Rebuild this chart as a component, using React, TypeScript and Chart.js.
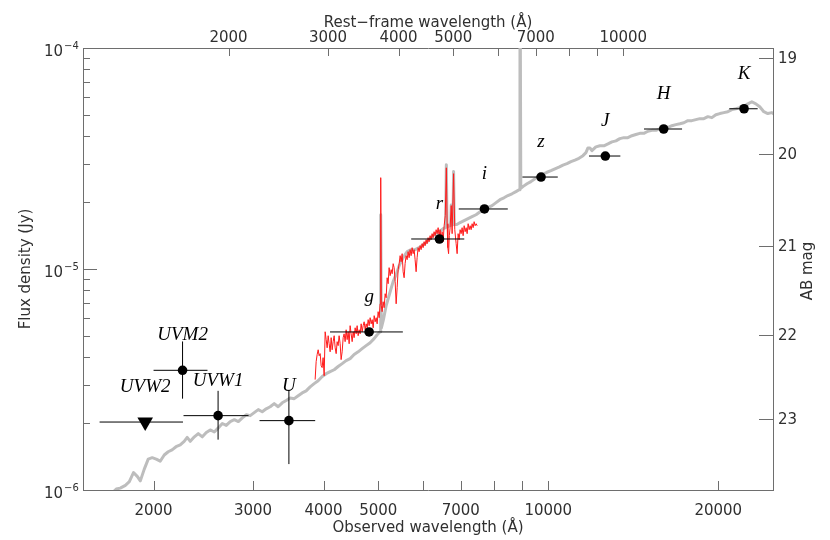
import React, { useEffect, useRef } from 'react';
import { Chart, registerables } from 'chart.js';

Chart.register(...registerables);

// ---------- axis ranges ----------
const OBS_MIN = 1500;
const OBS_MAX = 25000;
const ONE_PLUS_Z = 1.3576;
const FLUX_MIN = 1e-6;
const FLUX_MAX = 1e-4;
const MICRO = 1e-6; // flux arrays below are in µJy

// ---------- photometry ----------
const bandNames = ['UVW2', 'UVM2', 'UVW1', 'U', 'g', 'r', 'i', 'z', 'J', 'H', 'K'];
const bandWave = [1933, 2251, 2602, 3473, 4817, 6416, 7708, 9709, 12619, 16008, 22216];
const bandWaveLo = [1605, 2000, 2260, 3081, 4107, 5718, 6942, 8999, 11806, 14776, 20918];
const bandWaveHi = [2255, 2492, 2946, 3866, 5527, 7100, 8478, 10395, 13416, 17255, 23484];
const bandFlux = [2.03, 3.48, 2.17, 2.06, 5.19, 13.67, 18.69, 26.07, 32.45, 43.0, 53.1];
const bandFluxLo = [null, 2.59, 1.69, 1.31, null, null, null, null, null, null, null];
const bandFluxHi = [null, 4.70, 2.81, 2.84, null, null, null, null, null, null, null];
const bandUpperLimit = [true, false, false, false, false, false, false, false, false, false, false];

// ---------- galaxy template (grey) ----------
const templateWave = [
  1676, 1718, 1746, 1783, 1812, 1843, 1873, 1895, 1925, 1957,
  1989, 2022, 2055, 2089, 2123, 2157, 2192, 2230, 2266, 2294,
  2323, 2362, 2400, 2440, 2480, 2520, 2562, 2604, 2647, 2690,
  2734, 2780, 2826, 2872, 2920, 2966, 3015, 3065, 3115, 3166,
  3218, 3271, 3324, 3380, 3435, 3491, 3549, 3607, 3666, 3726,
  3787, 3850, 3913, 3978, 4043, 4109, 4177, 4245, 4315, 4386,
  4458, 4531, 4606, 4681, 4758, 4837, 4916, 4977, 5018, 5038,
  5050, 5062, 5106, 5163, 5248, 5312, 5376, 5444, 5534, 5625,
  5716, 5811, 5906, 6003, 6101, 6202, 6304, 6408, 6513, 6580,
  6599, 6618, 6647, 6715, 6732, 6750, 6780, 6797, 6815, 6887,
  6981, 7095, 7211, 7329, 7449, 7574, 7698, 7824, 7952, 8082,
  8212, 8347, 8484, 8624, 8765, 8880, 8910, 8940, 9029, 9169,
  9317, 9470, 9626, 9784, 9945, 10110, 10275, 10445, 10617, 10792,
  10970, 11150, 11333, 11520, 11660, 11755, 11850, 11947, 12142, 12345,
  12548, 12754, 12964, 13178, 13388, 13610, 13834, 14062, 14293, 14525,
  14767, 15010, 15257, 15508, 15759, 16020, 16283, 16551, 16823, 17101,
  17382, 17668, 17958, 18254, 18554, 18858, 19169, 19484, 19804, 20129,
  20460, 20796, 21140, 21487, 21838, 22197, 22561, 22933, 23311, 23686,
  24080, 24475, 24880, 25190,
];
const templateFlux = [
  0.95, 1.01, 1.02, 1.05, 1.09, 1.20, 1.15, 1.10, 1.24, 1.38,
  1.40, 1.38, 1.35, 1.44, 1.49, 1.52, 1.57, 1.60, 1.66, 1.73,
  1.66, 1.74, 1.80, 1.74, 1.82, 1.87, 1.83, 1.91, 2.00, 1.96,
  2.04, 2.08, 2.04, 2.12, 2.19, 2.17, 2.24, 2.31, 2.26, 2.33,
  2.38, 2.46, 2.38, 2.48, 2.54, 2.61, 2.59, 2.67, 2.75, 2.81,
  2.93, 3.03, 3.12, 3.26, 3.36, 3.43, 3.50, 3.62, 3.73, 3.85,
  3.93, 4.10, 4.22, 4.36, 4.50, 4.64, 4.84, 5.04, 5.15, 5.20,
  17.6, 5.40, 5.90, 6.82, 7.89, 8.77, 9.43, 10.35, 11.25, 11.98,
  12.23, 12.23, 12.49, 12.88, 13.29, 13.86, 14.44, 14.75, 15.22, 15.40,
  29.6, 15.50, 15.54, 15.70, 19.5, 15.80, 15.85, 27.6, 15.90, 15.89,
  16.22, 16.55, 16.90, 17.24, 17.60, 18.17, 18.55, 18.95, 19.36, 19.97,
  20.59, 21.0, 21.5, 21.9, 22.4, 22.85, 400, 23.2, 23.65, 24.3,
  24.85, 25.6, 26.2, 26.9, 27.4, 27.85, 28.4, 28.9, 29.5, 29.96,
  30.6, 31.1, 31.7, 32.57, 33.6, 35.3, 35.3, 34.3, 35.7, 36.1,
  36.1, 36.8, 37.6, 38.0, 38.9, 39.3, 39.3, 40.1, 40.6, 41.1,
  41.1, 42.0, 42.4, 42.4, 43.1, 43.6, 43.6, 44.5, 45.0, 45.4,
  45.9, 46.9, 46.9, 47.4, 47.9, 47.9, 48.9, 48.4, 49.9, 50.5,
  51.0, 51.5, 52.6, 53.1, 53.7, 54.2, 55.9, 57.1, 55.9, 54.2,
  51.5, 50.5, 51.0, 49.9,
];

// ---------- observed spectrum (red) ----------
const spectrumWave = [
  3865, 3881, 3897, 3913, 3929, 3945, 3961, 3977, 3993, 4010,
  4026, 4043, 4059, 4076, 4092, 4109, 4126, 4143, 4160, 4177,
  4194, 4211, 4228, 4245, 4262, 4280, 4297, 4315, 4333, 4350,
  4368, 4386, 4404, 4422, 4440, 4458, 4476, 4495, 4513, 4531,
  4550, 4569, 4587, 4606, 4625, 4644, 4663, 4682, 4701, 4720,
  4740, 4759, 4779, 4798, 4817, 4837, 4857, 4877, 4897, 4917,
  4937, 4957, 4977, 4997, 5018, 5038, 5050, 5062, 5079, 5100,
  5121, 5142, 5163, 5184, 5205, 5226, 5248, 5270, 5291, 5313,
  5334, 5356, 5378, 5400, 5422, 5444, 5466, 5488, 5511, 5533,
  5556, 5578, 5601, 5624, 5647, 5670, 5693, 5716, 5740, 5763,
  5787, 5810, 5834, 5858, 5882, 5906, 5930, 5954, 5979, 6003,
  6027, 6052, 6077, 6101, 6126, 6151, 6177, 6202, 6227, 6253,
  6278, 6304, 6330, 6356, 6382, 6408, 6434, 6460, 6487, 6513,
  6540, 6570, 6599, 6620, 6640, 6660, 6680, 6702, 6732, 6757,
  6797, 6830, 6868, 6896, 6924, 6952, 6981, 7009, 7038, 7067,
  7096, 7125, 7154, 7183, 7213, 7242, 7271, 7301, 7331, 7361,
  7391, 7421, 7452, 7482,
];
const spectrumFlux = [
  3.16, 3.81, 4.10, 4.31, 4.05, 4.14, 3.65, 3.58, 3.97, 3.29,
  5.20, 4.79, 4.40, 4.99, 4.59, 4.22, 4.89, 4.31, 4.69, 4.99,
  4.40, 4.14, 4.69, 4.50, 4.99, 4.59, 3.89, 4.22, 4.89, 5.09,
  4.69, 5.31, 4.79, 5.20, 4.59, 5.54, 5.09, 4.69, 5.20, 4.89,
  5.42, 5.09, 5.54, 4.99, 5.31, 5.09, 5.65, 5.20, 5.54, 5.77,
  5.31, 5.65, 5.42, 5.90, 5.54, 6.02, 5.65, 5.90, 5.42, 6.15,
  5.77, 6.02, 5.65, 6.41, 6.02, 6.96, 25.9, 6.82, 6.41, 7.11,
  6.68, 7.73, 7.41, 9.13, 8.58, 10.14, 9.33, 9.93, 9.52, 10.57,
  10.14, 8.76, 6.96, 8.23, 9.93, 10.57, 11.49, 10.79, 11.73, 9.72,
  9.13, 10.57, 11.49, 11.02, 11.98, 11.25, 12.23, 11.49, 12.49, 11.73,
  12.23, 11.02, 9.72, 11.25, 12.49, 11.98, 12.75, 12.23, 13.02, 12.49,
  13.29, 12.75, 13.57, 13.02, 13.86, 13.29, 14.15, 13.57, 14.45, 13.86,
  14.75, 14.15, 15.06, 14.45, 15.38, 14.15, 15.06, 13.57, 14.75, 13.29,
  15.70, 17.43, 28.7, 16.03, 12.49, 11.73, 14.15, 15.38, 19.36, 14.45,
  27.0, 15.06, 13.02, 11.73, 14.45, 13.57, 15.06, 14.45, 15.38, 14.15,
  15.70, 14.75, 15.38, 14.45, 16.03, 15.06, 15.70, 15.06, 16.03, 15.38,
  16.37, 15.70, 16.03, 15.70,
];

// ---------- ticks ----------
const obsTickValues = [2000, 3000, 4000, 5000, 6000, 7000, 8000, 9000, 10000, 20000];
const obsTickLabels = ['2000', '3000', '4000', '5000', '', '7000', '', '', '10000', '20000'];
const restTickValues = [2000, 3000, 4000, 5000, 6000, 7000, 8000, 9000, 10000];
const restTickLabels = ['2000', '3000', '4000', '5000', '', '7000', '', '', '10000'];
const fluxMajorTicks = [1e-4, 1e-5, 1e-6];
const fluxMajorExponents = ['\u22124', '\u22125', '\u22126'];
const fluxMinorTicks = [
  9e-5, 8e-5, 7e-5, 6e-5, 5e-5, 4e-5, 3e-5, 2e-5,
  9e-6, 8e-6, 7e-6, 6e-6, 5e-6, 4e-6, 3e-6, 2e-6,
];
const magTickLabels = ['19', '20', '21', '22', '23'];
const magTickFlux = [90.1, 33.1, 12.66, 5.04, 2.10]; // µJy, where each AB-mag tick is drawn

const AXIS_COLOR = '#6e6e6e';
const TEXT_COLOR = '#303030';
const NUM_FONT = '15px "DejaVu Sans"';
const TITLE_FONT = '15px "DejaVu Sans"';

const decorPlugin = {
  id: 'sedDecor',
  afterDatasetsDraw(chart: any) {
    const { ctx, chartArea: a, scales } = chart;
    const xs = scales.x;
    const xt = scales.xTop;
    const ys = scales.y;
    ctx.save();

    // inward ticks
    ctx.strokeStyle = AXIS_COLOR;
    ctx.lineWidth = 1;
    ctx.beginPath();
    obsTickValues.forEach((v) => {
      const x = Math.round(xs.getPixelForValue(v)) + 0.5;
      ctx.moveTo(x, a.bottom);
      ctx.lineTo(x, a.bottom - 9);
    });
    restTickValues.forEach((v) => {
      const x = Math.round(xt.getPixelForValue(v)) + 0.5;
      ctx.moveTo(x, a.top);
      ctx.lineTo(x, a.top + 8);
    });
    fluxMajorTicks.forEach((v) => {
      const y = Math.round(ys.getPixelForValue(v)) + 0.5;
      ctx.moveTo(a.left, y);
      ctx.lineTo(a.left + 14, y);
    });
    fluxMinorTicks.forEach((v) => {
      const y = Math.round(ys.getPixelForValue(v)) + 0.5;
      ctx.moveTo(a.left, y);
      ctx.lineTo(a.left + 7, y);
    });
    magTickFlux.forEach((v) => {
      const y = Math.round(ys.getPixelForValue(v * MICRO)) + 0.5;
      ctx.moveTo(a.right, y);
      ctx.lineTo(a.right - 14, y);
    });
    ctx.stroke();

    // tick labels
    ctx.fillStyle = TEXT_COLOR;
    ctx.font = NUM_FONT;
    ctx.textAlign = 'center';
    ctx.textBaseline = 'alphabetic';
    obsTickValues.forEach((v, i) => {
      if (obsTickLabels[i]) ctx.fillText(obsTickLabels[i], xs.getPixelForValue(v), a.bottom + 25);
    });
    restTickValues.forEach((v, i) => {
      if (restTickLabels[i]) ctx.fillText(restTickLabels[i], xt.getPixelForValue(v), a.top - 6);
    });
    ctx.textBaseline = 'middle';
    fluxMajorTicks.forEach((v, i) => {
      const y = ys.getPixelForValue(v);
      ctx.font = NUM_FONT;
      ctx.textAlign = 'right';
      ctx.fillText('10', a.left - 20, y + 4);
      ctx.font = '10px "DejaVu Sans"';
      ctx.textAlign = 'left';
      ctx.fillText(fluxMajorExponents[i], a.left - 19, y - 2);
    });
    ctx.font = NUM_FONT;
    ctx.textAlign = 'left';
    magTickFlux.forEach((v, i) => {
      ctx.fillText(magTickLabels[i], a.right + 5, ys.getPixelForValue(v * MICRO) + 1);
    });

    // axis titles
    ctx.font = TITLE_FONT;
    ctx.textAlign = 'center';
    ctx.textBaseline = 'alphabetic';
    const cx = (a.left + a.right) / 2;
    const cy = (a.top + a.bottom) / 2;
    ctx.fillText('Observed wavelength (\u00C5)', cx, 532);
    ctx.fillText('Rest\u2212frame wavelength (\u00C5)', cx, 27);
    ctx.textBaseline = 'middle';
    ctx.save();
    ctx.translate(26, cy);
    ctx.rotate(-Math.PI / 2);
    ctx.fillText('Flux density (Jy)', 0, 0);
    ctx.restore();
    ctx.save();
    ctx.translate(808, cy + 2);
    ctx.rotate(-Math.PI / 2);
    ctx.fillText('AB mag', 0, 0);
    ctx.restore();

    // band labels
    ctx.fillStyle = '#000';
    ctx.font = 'italic 19px "Liberation Serif"';
    ctx.textAlign = 'center';
    ctx.textBaseline = 'middle';
    bandNames.forEach((n, i) => {
      const x = xs.getPixelForValue(bandWave[i]);
      const y = ys.getPixelForValue(bandFlux[i] * MICRO) - 35;
      ctx.fillText(n, x, y);
    });

    ctx.restore();
  },
};

export default function App() {
  const canvasRef = useRef<HTMLCanvasElement | null>(null);

  useEffect(() => {
    if (!canvasRef.current) return;

    const templateData = templateWave.map((w, i) => ({ x: w, y: templateFlux[i] * MICRO }));
    const spectrumData = spectrumWave.map((w, i) => ({ x: w, y: spectrumFlux[i] * MICRO }));

    const errorSets: any[] = [];
    bandNames.forEach((_, i) => {
      errorSets.push({
        data: [
          { x: bandWaveLo[i], y: bandFlux[i] * MICRO },
          { x: bandWaveHi[i], y: bandFlux[i] * MICRO },
        ],
        showLine: true,
        borderColor: '#000',
        borderWidth: 1,
        pointRadius: 0,
        order: 1,
      });
      if (bandFluxLo[i] !== null && bandFluxHi[i] !== null) {
        errorSets.push({
          data: [
            { x: bandWave[i], y: (bandFluxLo[i] as number) * MICRO },
            { x: bandWave[i], y: (bandFluxHi[i] as number) * MICRO },
          ],
          showLine: true,
          borderColor: '#000',
          borderWidth: 1,
          pointRadius: 0,
          order: 1,
        });
      }
    });

    const detIdx = bandNames.map((_, i) => i).filter((i) => !bandUpperLimit[i]);
    const limIdx = bandNames.map((_, i) => i).filter((i) => bandUpperLimit[i]);

    const hidden = {
      grid: { display: false, drawTicks: false },
      ticks: { display: false },
      border: { display: true, color: AXIS_COLOR, width: 1 },
    };

    const chart = new Chart(canvasRef.current, {
      type: 'scatter',
      data: {
        datasets: [
          {
            data: detIdx.map((i) => ({ x: bandWave[i], y: bandFlux[i] * MICRO })),
            pointRadius: 4.8,
            pointBackgroundColor: '#000',
            pointBorderColor: '#000',
            pointBorderWidth: 0,
            showLine: false,
            order: 0,
          },
          {
            data: limIdx.map((i) => ({ x: bandWave[i], y: bandFlux[i] * MICRO })),
            pointStyle: 'triangle',
            rotation: 180,
            pointRadius: 9,
            pointBackgroundColor: '#000',
            pointBorderColor: '#000',
            pointBorderWidth: 0,
            showLine: false,
            order: 0,
          },
          ...errorSets,
          {
            data: spectrumData,
            showLine: true,
            borderColor: '#ff1a1a',
            borderWidth: 1,
            pointRadius: 0,
            order: 2,
          },
          {
            data: templateData,
            showLine: true,
            borderColor: '#bdbdbd',
            borderWidth: 3,
            pointRadius: 0,
            borderJoinStyle: 'round',
            order: 3,
          },
        ] as any,
      },
      options: {
        animation: false,
        responsive: false,
        devicePixelRatio: 1,
        events: [],
        layout: { padding: 0 },
        plugins: { legend: { display: false }, tooltip: { enabled: false } },
        scales: {
          x: {
            type: 'logarithmic',
            position: 'bottom',
            min: OBS_MIN,
            max: OBS_MAX,
            ...hidden,
            afterFit: (s: any) => { s.height = 50; },
          },
          xTop: {
            type: 'logarithmic',
            position: 'top',
            axis: 'x',
            min: OBS_MIN / ONE_PLUS_Z,
            max: OBS_MAX / ONE_PLUS_Z,
            ...hidden,
            afterFit: (s: any) => { s.height = 48; },
          },
          y: {
            type: 'logarithmic',
            position: 'left',
            min: FLUX_MIN,
            max: FLUX_MAX,
            ...hidden,
            afterFit: (s: any) => { s.width = 83; },
          },
          yRight: {
            type: 'logarithmic',
            position: 'right',
            axis: 'y',
            min: FLUX_MIN,
            max: FLUX_MAX,
            ...hidden,
            afterFit: (s: any) => { s.width = 57; },
          },
        } as any,
      },
      plugins: [decorPlugin],
    });

    return () => chart.destroy();
  }, []);

  return (
    <div style={{ position: 'fixed', left: 0, top: 0, width: 830, height: 540, background: '#fff' }}>
      <canvas ref={canvasRef} width={830} height={540} />
    </div>
  );
}
